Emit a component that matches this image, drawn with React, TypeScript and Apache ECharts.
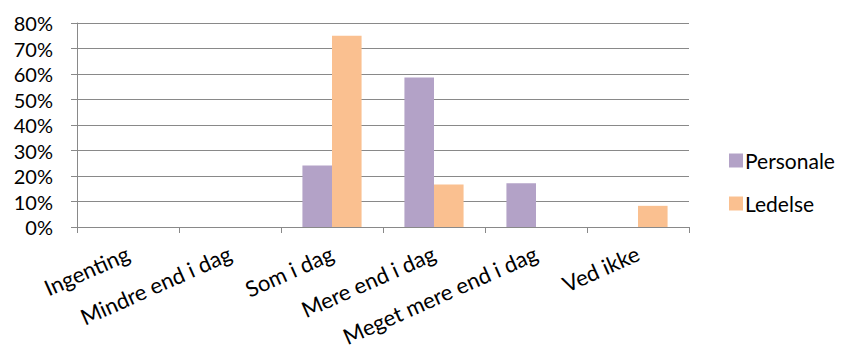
import React, { useEffect, useRef } from "react";
import * as echarts from "echarts";

const categories = ["Ingenting", "Mindre end i dag", "Som i dag", "Mere end i dag", "Meget mere end i dag", "Ved ikke"];
const personale = [0, 0, 24.1, 58.6, 17.2, 0];
const ledelse = [0, 0, 75, 16.7, 0, 8.3];
const seriesNames = ["Personale", "Ledelse"];
const colors = ["#B3A2C7", "#FAC090"];

const FONT = "Lato, 'Liberation Sans', sans-serif";

export default function App() {
  const ref = useRef<HTMLDivElement>(null);
  useEffect(() => {
    if (!ref.current) return;
    const chart = echarts.init(ref.current, undefined, { renderer: "svg" });
    chart.setOption({
      animation: false,
      backgroundColor: "#ffffff",
      textStyle: { fontFamily: FONT },
      grid: { left: 77, right: 157, top: 23, bottom: 124, containLabel: false, outerBoundsMode: "none" },
      legend: {
        orient: "vertical",
        left: 724,
        top: 145,
        itemWidth: 14,
        itemHeight: 14,
        itemGap: 22,
        icon: "rect",
        textStyle: { fontFamily: FONT, fontSize: 21, color: "#000", padding: [0, 0, 0, -3] },
        data: seriesNames,
      },
      xAxis: {
        type: "category",
        data: categories,
        axisLine: { show: true, lineStyle: { color: "#898989", width: 1 } },
        axisTick: { show: true, length: 6, lineStyle: { color: "#898989" } },
        axisLabel: {
          rotate: 24,
          margin: 25,
          interval: 0,
          fontSize: 22,
          color: "#000",
          fontFamily: FONT,
        },
      },
      yAxis: {
        type: "value",
        min: 0,
        max: 80,
        interval: 10,
        axisLine: { show: true, lineStyle: { color: "#898989", width: 1 } },
        axisTick: { show: true, length: 6, lineStyle: { color: "#898989" } },
        splitLine: { show: true, lineStyle: { color: "#898989", width: 1 } },
        axisLabel: {
          formatter: (v: number) => v + "%",
          margin: 24,
          fontSize: 20,
          color: "#000",
          fontFamily: FONT,
        },
      },
      series: [
        {
          name: seriesNames[0],
          type: "bar",
          data: personale,
          itemStyle: { color: colors[0] },
          barGap: "0%",
          barCategoryGap: "42%",
        },
        {
          name: seriesNames[1],
          type: "bar",
          data: ledelse,
          itemStyle: { color: colors[1] },
          barGap: "0%",
          barCategoryGap: "42%",
        },
      ],
    });
    return () => chart.dispose();
  }, []);
  return <div ref={ref} style={{ width: 846, height: 351, position: "absolute", left: 0, top: 0 }} />;
}
